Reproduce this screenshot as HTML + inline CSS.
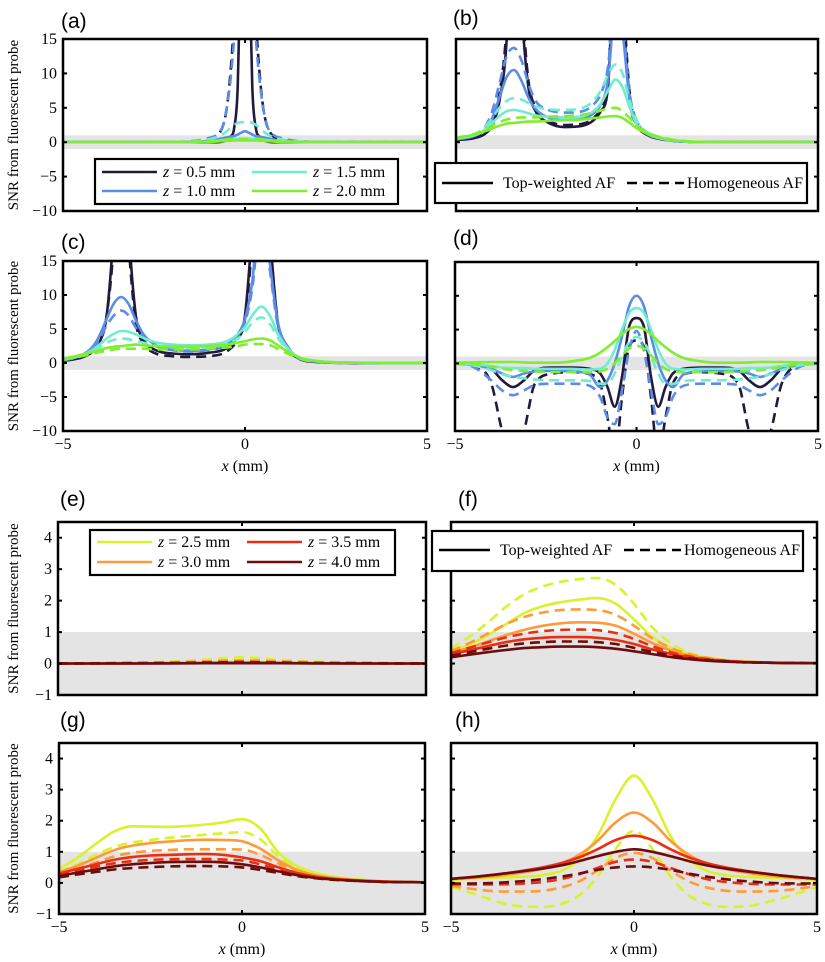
<!DOCTYPE html>
<html><head><meta charset="utf-8">
<style>
body{margin:0;background:#fff;}
svg{display:block;font-family:"Liberation Serif",serif;}
.plab{font-family:"Liberation Sans",sans-serif;font-size:21px;}
</style></head>
<body>
<svg id="fig" width="825" height="962" viewBox="0 0 825 962"></svg>
<script>
// ---------- DATA ----------
const xsA=[-5,-2,-1,-0.75,-0.6,-0.5,-0.4,-0.3,-0.2,-0.1,0,0.1,0.2,0.3,0.4,0.5,0.6,0.75,1,2,5];
const a_s1=[0,0,0,0,0.1,0.3,0.8,2,8,30,60,30,8,2,0.8,0.3,0.1,0,0,0,0];
const a_d1=[0,0,0.3,1,2.5,5,10,18,30,45,50,45,30,18,10,5,2.5,1,0.3,0,0];
const a_s2=[0,0,0.2,0.4,0.6,0.7,0.8,0.9,1.1,1.4,1.6,1.4,1.1,0.9,0.8,0.7,0.6,0.4,0.2,0,0];
const a_d2=[0,0.05,0.6,1.2,2.5,5,9,15,22,28,30,28,22,15,9,5,2.5,1.2,0.6,0.05,0];
const a_s3=[0,0,0.1,0.2,0.3,0.35,0.4,0.45,0.5,0.5,0.5,0.5,0.5,0.45,0.4,0.35,0.3,0.2,0.1,0,0];
const a_d3=[0,0.03,0.4,0.8,1.2,1.6,2.1,2.5,2.8,2.9,2.9,2.9,2.8,2.5,2.1,1.6,1.2,0.8,0.4,0.03,0];
const a_s4=[0,0,0.05,0.1,0.15,0.2,0.2,0.25,0.25,0.25,0.25,0.25,0.25,0.25,0.2,0.2,0.15,0.1,0.05,0,0];
const a_d4=[0,0.02,0.15,0.25,0.35,0.4,0.45,0.5,0.5,0.5,0.5,0.5,0.5,0.5,0.45,0.4,0.35,0.25,0.15,0.02,0];

const xsB=[-5,-4.5,-4.2,-4,-3.8,-3.6,-3.4,-3.2,-3,-2.8,-2.5,-2,-1.5,-1.2,-1,-0.8,-0.6,-0.4,-0.2,0,0.3,0.6,1,1.5,2,3,5];
const b_s1=[0.3,0.6,1.2,2.5,6,15,40,20,8,4.5,3,2.2,2.4,3.2,4.5,8,30,20,6,2.5,1,0.5,0.2,0.05,0,0,0];
const b_d1=[0.4,0.8,1.5,3,7,17,40,22,9,5,3.3,2.5,2.7,3.5,5,9,30,22,7,3,1.2,0.6,0.2,0.05,0,0,0];
const b_s2=[0.4,0.9,1.8,3.5,6.5,9.5,10.5,9,6.5,4.8,3.7,3.2,3.4,4.2,5.5,9,20,16,6,2.6,1.1,0.6,0.2,0.05,0,0,0];
const b_d2=[0.5,1,2.2,4.5,8.5,12.5,13.7,12,8.5,6,4.8,4.3,4.5,5.5,7,11,22,18,7,3,1.3,0.7,0.25,0.05,0,0,0];
const b_s3=[0.5,1,1.8,2.8,3.8,4.5,4.7,4.5,4.2,3.9,3.7,3.6,3.8,4.5,5.6,7.5,9.1,8,5,2.5,1.2,0.6,0.25,0.05,0,0,0];
const b_d3=[0.5,1.1,2.2,3.5,5,6,6.4,6.2,5.7,5.2,4.8,4.7,5,6,7.5,9.8,11.3,10,6,3,1.4,0.7,0.3,0.05,0,0,0];
const b_s4=[0.6,1.1,1.6,2,2.4,2.7,2.8,2.9,3,3,3.1,3.2,3.3,3.5,3.6,3.75,3.8,3.5,2.8,2,1.2,0.7,0.3,0.08,0.02,0,0];
const b_d4=[0.6,1.2,1.8,2.4,2.9,3.3,3.5,3.6,3.6,3.6,3.7,3.8,4,4.3,4.6,4.9,5,4.5,3.5,2.4,1.4,0.8,0.35,0.1,0.02,0,0];

const xsC=[-5,-4.5,-4.2,-4,-3.8,-3.6,-3.4,-3.2,-3,-2.8,-2.5,-2,-1.5,-1,-0.5,-0.2,0,0.2,0.45,0.7,0.9,1.2,1.5,2,3,5];
const c_s1=[0.3,0.8,1.6,3,7,20,40,20,7,3.5,2,1.4,1.3,1.5,2.2,4,7,20,40,18,6,2,0.6,0.15,0.02,0];
const c_d1=[0.3,0.8,1.6,3,7,18,40,18,6,3,1.5,1,0.9,1,1.7,3.5,6.5,18,40,18,6,2,0.6,0.15,0.02,0];
const c_s2=[0.4,1.1,2.3,4,6.5,8.8,9.7,8.7,6.3,4.3,2.8,2,1.8,2,2.7,4.2,6.5,12,25,14,6,2.2,0.7,0.2,0.03,0];
const c_d2=[0.4,1,2,3.5,5.5,7,7.7,7,5.2,3.8,2.6,1.9,1.7,1.9,2.6,4,6,11,22,13,5.5,2,0.65,0.2,0.03,0];
const c_s3=[0.5,1.1,1.9,2.7,3.6,4.3,4.7,4.6,4.2,3.7,3.1,2.7,2.6,2.7,3.2,4.2,5.3,7,8.3,6.8,4.3,2,0.8,0.25,0.04,0];
const c_d3=[0.5,1,1.6,2.3,3,3.4,3.6,3.5,3.2,3,2.6,2.3,2.2,2.3,2.8,3.6,4.6,5.9,6.7,5.6,3.7,1.8,0.7,0.22,0.04,0];
const c_s4=[0.6,1.2,1.6,1.9,2.2,2.4,2.5,2.6,2.7,2.6,2.5,2.4,2.4,2.5,2.7,3,3.2,3.45,3.6,3.3,2.6,1.6,0.8,0.3,0.05,0];
const c_d4=[0.5,1,1.3,1.6,1.8,2,2.1,2.1,2.1,2.1,2,2,2,2.1,2.3,2.5,2.7,2.8,2.8,2.6,2.1,1.3,0.7,0.25,0.05,0];

const xsD=[-5,-4.5,-4,-3.7,-3.4,-3.1,-2.8,-2.3,-1.8,-1.3,-1,-0.8,-0.6,-0.4,-0.2,0,0.2,0.4,0.6,0.8,1,1.3,1.8,2.3,2.8,3.1,3.4,3.7,4,4.5,5];
const d_s1=[0,-0.1,-0.8,-2.5,-3.5,-2.5,-1,-0.6,-0.6,-0.8,-1.5,-3.5,-6.4,-2,5.5,6.7,5.5,-2,-6.4,-3.5,-1.5,-0.8,-0.6,-0.6,-1,-2.5,-3.5,-2.5,-0.8,-0.1,0];
const d_d1=[0,-0.3,-3,-10,-14,-10,-3,-1.5,-1.3,-1.6,-3,-8,-14,-5,2.5,3.4,2.5,-5,-14,-8,-3,-1.6,-1.3,-1.5,-3,-10,-14,-10,-3,-0.3,0];
const d_s2=[0,-0.2,-0.8,-1.5,-2,-1.5,-1.2,-1.1,-1.2,-1.6,-3.5,-2.5,0,4,8.5,10,8.5,4,0,-2.5,-3.5,-1.6,-1.2,-1.1,-1.2,-1.5,-2,-1.5,-0.8,-0.2,0];
const d_d2=[0,-0.5,-2.5,-4,-4.7,-4,-3.2,-3,-3,-3.3,-5,-8,-9,-4,2,4.8,2,-4,-9,-8,-5,-3.3,-3,-3,-3.2,-4,-4.7,-4,-2.5,-0.5,0];
const d_s3=[0,-0.1,-0.4,-0.6,-0.7,-0.7,-0.8,-0.8,-0.8,-0.9,-0.8,0,2,5,7.5,8.2,7.5,5,2,0,-0.8,-0.9,-0.8,-0.8,-0.8,-0.7,-0.7,-0.6,-0.4,-0.1,0];
const d_d3=[0,-0.3,-1,-1.6,-2,-2.2,-2.4,-2.5,-2.5,-2.6,-3,-3,-1.5,1,3.2,3.9,3.2,1,-1.5,-3,-3,-2.6,-2.5,-2.5,-2.4,-2.2,-2,-1.6,-1,-0.3,0];
const d_s4=[0.1,0.15,0.2,0.2,0.2,0.15,0.1,0.1,0.3,0.8,1.6,2.4,3.3,4.3,5.1,5.4,5.1,4.3,3.3,2.4,1.6,0.8,0.3,0.1,0.1,0.15,0.2,0.2,0.2,0.15,0.1];
const d_d4=[0,-0.1,-0.5,-0.8,-1,-1.1,-1.2,-1.3,-1.3,-1.3,-1.2,-0.8,0,1.2,2.2,2.6,2.2,1.2,0,-0.8,-1.2,-1.3,-1.3,-1.3,-1.2,-1.1,-1,-0.8,-0.5,-0.1,0];

const xsE=[-5,-3,-2,-1,-0.5,0,0.5,1,2,3,5];
const e_s1=[0,0.01,0.02,0.03,0.04,0.05,0.04,0.03,0.02,0.01,0];
const e_d1=[0,0.03,0.06,0.12,0.17,0.2,0.17,0.12,0.06,0.03,0];
const e_s2=[0,0.01,0.01,0.02,0.03,0.03,0.03,0.02,0.01,0.01,0];
const e_d2=[0,0.02,0.04,0.07,0.09,0.1,0.09,0.07,0.04,0.02,0];
const e_s3=[0,0,0.01,0.01,0.02,0.02,0.02,0.01,0.01,0,0];
const e_d3=[0,0.01,0.02,0.04,0.05,0.06,0.05,0.04,0.02,0.01,0];
const e_s4=[0,0,0,0.01,0.01,0.01,0.01,0.01,0,0,0];
const e_d4=[0,0.01,0.01,0.02,0.03,0.03,0.03,0.02,0.01,0.01,0];

const xsF=[-5,-4.5,-4,-3.5,-3,-2.5,-2,-1.5,-1,-0.5,0,0.5,1,1.5,2,2.5,3,4,5];
const f_s1=[0.38,0.6,0.9,1.25,1.6,1.82,1.95,2.03,2.08,1.9,1.4,0.85,0.5,0.3,0.17,0.1,0.06,0.02,0.01];
const f_d1=[0.48,0.85,1.3,1.8,2.2,2.45,2.6,2.68,2.72,2.5,1.9,1.15,0.65,0.35,0.2,0.11,0.07,0.02,0.01];
const f_s2=[0.35,0.5,0.7,0.9,1.07,1.2,1.28,1.31,1.3,1.2,0.95,0.65,0.42,0.26,0.16,0.1,0.06,0.02,0.01];
const f_d2=[0.4,0.65,0.95,1.25,1.48,1.62,1.7,1.72,1.7,1.55,1.2,0.8,0.5,0.3,0.18,0.1,0.06,0.02,0.01];
const f_s3=[0.3,0.42,0.55,0.68,0.77,0.82,0.84,0.84,0.82,0.75,0.62,0.45,0.31,0.2,0.13,0.08,0.05,0.02,0.01];
const f_d3=[0.33,0.5,0.67,0.83,0.95,1.03,1.07,1.08,1.06,0.97,0.78,0.55,0.36,0.23,0.14,0.09,0.05,0.02,0.01];
const f_s4=[0.2,0.28,0.36,0.43,0.49,0.52,0.54,0.54,0.52,0.47,0.39,0.3,0.21,0.14,0.09,0.06,0.04,0.02,0.01];
const f_d4=[0.25,0.36,0.47,0.57,0.64,0.68,0.7,0.7,0.68,0.62,0.5,0.37,0.26,0.17,0.11,0.07,0.04,0.02,0.01];

const g_s1=[0.45,0.8,1.25,1.65,1.82,1.81,1.8,1.83,1.88,1.95,2.05,1.75,0.97,0.54,0.32,0.2,0.13,0.05,0.02];
const g_d1=[0.35,0.6,0.9,1.15,1.3,1.38,1.45,1.5,1.55,1.6,1.63,1.4,0.85,0.45,0.27,0.17,0.11,0.04,0.02];
const g_s2=[0.35,0.55,0.8,1.05,1.2,1.28,1.33,1.37,1.39,1.38,1.34,1.1,0.72,0.42,0.25,0.16,0.1,0.04,0.02];
const g_d2=[0.3,0.45,0.65,0.85,0.97,1.03,1.06,1.08,1.08,1.08,1.07,0.9,0.62,0.38,0.23,0.15,0.1,0.04,0.02];
const g_s3=[0.3,0.45,0.6,0.74,0.83,0.88,0.9,0.92,0.93,0.9,0.82,0.7,0.5,0.32,0.2,0.13,0.09,0.04,0.02];
const g_d3=[0.25,0.38,0.52,0.63,0.7,0.74,0.76,0.77,0.77,0.75,0.72,0.6,0.43,0.28,0.18,0.12,0.08,0.03,0.02];
const g_s4=[0.22,0.33,0.43,0.53,0.6,0.64,0.67,0.68,0.68,0.66,0.6,0.5,0.37,0.25,0.16,0.11,0.07,0.03,0.02];
const g_d4=[0.18,0.27,0.35,0.43,0.48,0.51,0.53,0.54,0.54,0.53,0.5,0.42,0.32,0.22,0.15,0.1,0.07,0.03,0.02];

const h_s1=[0.1,0.13,0.16,0.18,0.2,0.25,0.38,0.75,1.5,2.7,3.45,2.7,1.5,0.75,0.38,0.25,0.2,0.16,0.1];
const h_d1=[-0.13,-0.3,-0.5,-0.68,-0.76,-0.77,-0.68,-0.4,0.2,1.1,1.68,1.1,0.2,-0.4,-0.68,-0.77,-0.76,-0.5,-0.13];
const h_s2=[0.12,0.16,0.2,0.26,0.34,0.45,0.62,0.9,1.35,1.95,2.26,1.95,1.35,0.9,0.62,0.45,0.34,0.2,0.12];
const h_d2=[-0.1,-0.18,-0.25,-0.28,-0.28,-0.25,-0.15,0.05,0.4,0.8,0.97,0.8,0.4,0.05,-0.15,-0.25,-0.28,-0.25,-0.1];
const h_s3=[0.13,0.18,0.24,0.31,0.4,0.5,0.63,0.82,1.08,1.38,1.52,1.38,1.08,0.82,0.63,0.5,0.4,0.24,0.13];
const h_d3=[-0.05,-0.05,-0.05,-0.04,-0.02,0.03,0.12,0.28,0.48,0.68,0.75,0.68,0.48,0.28,0.12,0.03,-0.02,-0.05,-0.05];
const h_s4=[0.13,0.18,0.24,0.31,0.38,0.46,0.56,0.7,0.86,1.0,1.08,1.0,0.86,0.7,0.56,0.46,0.38,0.24,0.13];
const h_d4=[-0.02,-0.02,-0.01,0.02,0.06,0.12,0.2,0.3,0.42,0.5,0.53,0.5,0.42,0.3,0.2,0.12,0.06,-0.01,-0.02];

const yTicksTop=[15,10,5,0,-5,-10];
const yTicksBot=[4,3,2,1,0,-1];
const xTicks=[-5,0,5];
const topLabels=["z = 0.5 mm","z = 1.0 mm","z = 1.5 mm","z = 2.0 mm"];
const botLabels=["z = 2.5 mm","z = 3.0 mm","z = 3.5 mm","z = 4.0 mm"];
const topColors=["#221a3c","#5b8ce8","#72eccf","#80ee30"];
const botColors=["#d9f22a","#ff9a3a","#ea2e12","#6c0c0c"];

// ---------- DRAW ----------
const NS="http://www.w3.org/2000/svg";
const svg=document.getElementById('fig');
function el(tag,attrs,parent){const e=document.createElementNS(NS,tag);for(const k in attrs)e.setAttribute(k,attrs[k]);(parent||svg).appendChild(e);return e;}
function fmt(v){return v<0?"\u2212"+(-v):String(v);}
// monotone cubic path (Fritsch-Carlson)
function monoPath(P){
  const n=P.length;if(n<2)return '';
  const dx=[],m=[],t=new Array(n);
  for(let i=0;i<n-1;i++){dx.push(P[i+1][0]-P[i][0]);m.push((P[i+1][1]-P[i][1])/dx[i]);}
  t[0]=m[0];t[n-1]=m[n-2];
  for(let i=1;i<n-1;i++){t[i]=(m[i-1]*m[i]<=0)?0:(m[i-1]+m[i])/2;}
  for(let i=0;i<n-1;i++){
    if(m[i]===0){t[i]=0;t[i+1]=0;continue;}
    const a=t[i]/m[i],b=t[i+1]/m[i],s=a*a+b*b;
    if(s>9){const k=3/Math.sqrt(s);t[i]=k*a*m[i];t[i+1]=k*b*m[i];}
  }
  let d='M'+P[0][0].toFixed(1)+','+P[0][1].toFixed(1);
  for(let i=0;i<n-1;i++){
    const h=dx[i]/3;
    d+=' C'+(P[i][0]+h).toFixed(1)+','+(P[i][1]+t[i]*h).toFixed(1)+' '+(P[i+1][0]-h).toFixed(1)+','+(P[i+1][1]-t[i+1]*h).toFixed(1)+' '+P[i+1][0].toFixed(1)+','+P[i+1][1].toFixed(1);
  }
  return d;
}

const panels=[
 {id:'a',L:63,R:427,T:39,B:211,ymin:-10,ymax:15,xs:xsA,solid:[a_s1,a_s2,a_s3,a_s4],dash:[a_d1,a_d2,a_d3,a_d4],cols:topColors,yt:yTicksTop,ylab:true,xlab:false,lx:61,ly:28},
 {id:'b',L:456,R:818,T:39,B:211,ymin:-10,ymax:15,xs:xsB,solid:[b_s1,b_s2,b_s3,b_s4],dash:[b_d1,b_d2,b_d3,b_d4],cols:topColors,yt:yTicksTop,ylab:false,xlab:false,lx:453,ly:25},
 {id:'c',L:63,R:427,T:261,B:431,ymin:-10,ymax:15,xs:xsC,solid:[c_s1,c_s2,c_s3,c_s4],dash:[c_d1,c_d2,c_d3,c_d4],cols:topColors,yt:yTicksTop,ylab:true,xlab:true,lx:61,ly:249},
 {id:'d',L:455,R:818,T:262,B:431,ymin:-10,ymax:15,xs:xsD,solid:[d_s1,d_s2,d_s3,d_s4],dash:[d_d1,d_d2,d_d3,d_d4],cols:topColors,yt:yTicksTop,ylab:false,xlab:true,lx:453,ly:245},
 {id:'e',L:58,R:426,T:522,B:695,ymin:-1,ymax:4.5,xs:xsE,solid:[e_s1,e_s2,e_s3,e_s4],dash:[e_d1,e_d2,e_d3,e_d4],cols:botColors,yt:yTicksBot,ylab:true,xlab:false,lx:60,ly:506},
 {id:'f',L:451,R:817,T:522,B:695,ymin:-1,ymax:4.5,xs:xsF,solid:[f_s1,f_s2,f_s3,f_s4],dash:[f_d1,f_d2,f_d3,f_d4],cols:botColors,yt:yTicksBot,ylab:false,xlab:false,lx:458,ly:506},
 {id:'g',L:59,R:425,T:743,B:914,ymin:-1,ymax:4.5,xs:xsF,solid:[g_s1,g_s2,g_s3,g_s4],dash:[g_d1,g_d2,g_d3,g_d4],cols:botColors,yt:yTicksBot,ylab:true,xlab:true,lx:60,ly:727},
 {id:'h',L:451,R:817,T:743,B:914,ymin:-1,ymax:4.5,xs:xsF,solid:[h_s1,h_s2,h_s3,h_s4],dash:[h_d1,h_d2,h_d3,h_d4],cols:botColors,yt:yTicksBot,ylab:false,xlab:true,lx:455,ly:727}
];

panels.forEach(p=>{
  const g=el('g',{});
  
  
  const X=v=>p.L+(v+5)/10*(p.R-p.L);
  const Y=v=>p.B-(v-p.ymin)/(p.ymax-p.ymin)*(p.B-p.T);
  const lab=el('text',{x:p.lx,y:p.ly,class:'plab'},g);lab.textContent='('+p.id+')';
  
  
  const cp=el('clipPath',{id:'clip'+p.id},g);
  el('rect',{x:p.L,y:p.T,width:p.R-p.L,height:p.B-p.T},cp);
  const band=el('rect',{x:p.L,y:Y(1),width:p.R-p.L,height:Y(-1)-Y(1),fill:'#e3e4e3'},g);
  
  
  const lg=el('g',{'clip-path':'url(#clip'+p.id+')'},g);
  for(let i=0;i<4;i++){
    [['solid',p.solid[i],null],['dashed',p.dash[i],'10 6']].forEach(([kind,arr,da])=>{
      const P=arr.map((v,j)=>[X(p.xs[j]),Y(v)]);
      const pl=el('path',{d:monoPath(P),fill:'none',stroke:p.cols[i],'stroke-width':2.6,'stroke-linejoin':'round'},lg);
      if(da)pl.setAttribute('stroke-dasharray',da);
      
      
    });
  }
  const box=el('rect',{x:p.L,y:p.T,width:p.R-p.L,height:p.B-p.T,fill:'none',stroke:'#000','stroke-width':2.5},g);
  
  
  p.yt.forEach(t=>{
    const y=Y(t);
    el('line',{x1:p.L,x2:p.L+4,y1:y,y2:y,stroke:'#000','stroke-width':2},g);
    el('line',{x1:p.R-4,x2:p.R,y1:y,y2:y,stroke:'#000','stroke-width':2},g);
    if(p.ylab){const tx=el('text',{x:p.L-6,y:y+5,'text-anchor':'end','font-size':16},g);tx.textContent=fmt(t);
      
      }
  });
  xTicks.forEach(t=>{
    const x=X(t);
    el('line',{x1:x,x2:x,y1:p.B,y2:p.B-4,stroke:'#000','stroke-width':2},g);
    el('line',{x1:x,x2:x,y1:p.T,y2:p.T+4,stroke:'#000','stroke-width':2},g);
    if(p.xlab){const tx=el('text',{x:x,y:p.B+18,'text-anchor':'middle','font-size':16},g);tx.textContent=fmt(t);
      
      }
  });
  if(p.xlab){const tx=el('text',{x:(p.L+p.R)/2,y:p.B+40,'text-anchor':'middle','font-size':16},g);
    tx.innerHTML='<tspan font-style="italic">x</tspan> (mm)';
    
    }
  if(p.ylab){const cy=(p.T+p.B)/2;const tx=el('text',{x:0,y:0,'text-anchor':'middle','font-size':15,transform:'translate(18,'+cy+') rotate(-90)'},g);
    tx.textContent='SNR from fluorescent probe';
    
    }
});

// legends
function zLegend(x0,y0,w,h,labels,cols,r1,r2,name){
  const g=el('g',{});
  
  
  el('rect',{x:x0,y:y0,width:w,height:h,fill:'#fff',stroke:'#000','stroke-width':2.2},g);
  const colX=[[x0+7,x0+62,x0+68],[x0+157,x0+212,x0+218]];
  const order=[[0,0,r1],[1,0,r2],[2,1,r1],[3,1,r2]];
  order.forEach(([i,c,ry])=>{
    el('line',{x1:colX[c][0],x2:colX[c][1],y1:ry,y2:ry,stroke:cols[i],'stroke-width':2.6},g);
    const t=el('text',{x:colX[c][2],y:ry+5,'font-size':16},g);
    const parts=labels[i].split(' ');
    t.innerHTML='<tspan font-style="italic">z</tspan> = '+parts[2]+' mm';
    
    
  });
}
zLegend(95,159,303,45,topLabels,topColors,172,191,'legend-depth-top');
zLegend(90,530,305,45,botLabels,botColors,542,562,'legend-depth-bottom');

function styleLegend(x0,y0,w,h,ty,name){
  const g=el('g',{});
  
  
  el('rect',{x:x0,y:y0,width:w,height:h,fill:'#fff',stroke:'#000','stroke-width':2.2},g);
  el('line',{x1:x0+7,x2:x0+58,y1:ty,y2:ty,stroke:'#000','stroke-width':2.6},g);
  const t1=el('text',{x:x0+68,y:ty+5,'font-size':16},g);t1.textContent='Top-weighted AF';
  el('line',{x1:x0+192,x2:x0+249,y1:ty,y2:ty,stroke:'#000','stroke-width':2.6,'stroke-dasharray':'10 6'},g);
  const t2=el('text',{x:x0+252,y:ty+5,'font-size':16},g);t2.textContent='Homogeneous AF';
}
styleLegend(435,163,372,40,183,'legend-style-top');
styleLegend(432,531,371,40,550,'legend-style-bottom');
</script>
</body></html>
